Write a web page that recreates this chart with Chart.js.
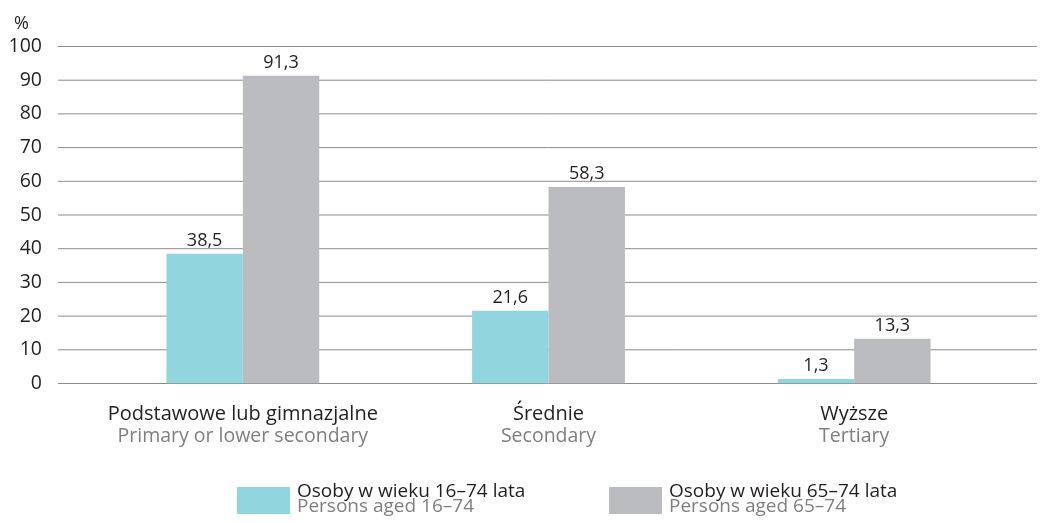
<!DOCTYPE html>
<html lang="pl">
<head>
<meta charset="utf-8">
<title>Wykres</title>
<script src="https://cdn.jsdelivr.net/npm/chart.js@4.4.1/dist/chart.umd.min.js"></script>
<style>
  html, body { margin: 0; padding: 0; background: #ffffff; }
  #wrap { width: 1052px; height: 523px; position: relative; }
</style>
</head>
<body>
<div id="wrap"><canvas id="chart" width="1052" height="523"></canvas></div>
<script>
// Categories (Polish line on top, English line below)
const categoriesPl = ['Podstawowe lub gimnazjalne', 'Średnie', 'Wyższe'];
const categoriesEn = ['Primary or lower secondary', 'Secondary', 'Tertiary'];

// Series names
const seriesNamesPl = ['Osoby w wieku 16–74 lata', 'Osoby w wieku 65–74 lata'];
const seriesNamesEn = ['Persons aged 16–74', 'Persons aged 65–74'];

// Values, %
const values16to74 = [38.5, 21.6, 1.3];
const values65to74 = [91.3, 58.3, 13.3];

// Y axis
const yMin = 0;
const yMax = 100;
const yStep = 10;
const yUnit = '%';

const FONT = "'Open Sans', 'DejaVu Sans', sans-serif";
const FS_AXIS = 19.5;
const FS_CAT = 20;
const FS_VALUE = 18;
const FS_LEGEND = 19;
const DARK = '#231f20';
const GREY_TEXT = '#7f7f7f';
const GRID = '#8c8c8c';
const COLORS = ['#91d5de', '#bbbcc0'];

const fmt = v => v.toFixed(1).replace('.', ',');

// Let the two stacked category label rows keep their descenders
// (each axis clips its labels to its own box)
const labelRoomPlugin = {
  id: 'labelRoom',
  afterLayout(chart) {
    const { x, x2 } = chart.scales;
    x.bottom = x2.top + 10;
    x2.bottom = chart.height;
  }
};

// Horizontal grid lines, a bit wider than the plot area
const gridPlugin = {
  id: 'wideGrid',
  beforeDatasetsDraw(chart) {
    const { ctx, chartArea, scales: { y } } = chart;
    ctx.save();
    ctx.strokeStyle = GRID;
    ctx.lineWidth = 1;
    y.ticks.forEach(t => {
      const py = y.getPixelForValue(t.value);
      ctx.beginPath();
      ctx.moveTo(chartArea.left - 32, py);
      ctx.lineTo(chartArea.right + 30, py);
      ctx.stroke();
    });
    ctx.restore();
  }
};

// Value labels above bars and the unit sign above the y axis
const labelPlugin = {
  id: 'valueLabels',
  afterDatasetsDraw(chart) {
    const { ctx, scales: { y } } = chart;
    ctx.save();
    ctx.font = `${FS_VALUE}px ${FONT}`;
    ctx.fillStyle = DARK;
    ctx.textAlign = 'center';
    ctx.textBaseline = 'alphabetic';
    chart.data.datasets.forEach((ds, i) => {
      chart.getDatasetMeta(i).data.forEach((bar, j) => {
        ctx.fillText(fmt(ds.data[j]), bar.x, bar.y - 8);
      });
    });
    ctx.textAlign = 'left';
    ctx.fillText(yUnit, 14, y.getPixelForValue(yMax) - 18);
    ctx.restore();
  }
};

// Two-line legend under the chart
const legendPlugin = {
  id: 'twoLineLegend',
  afterDraw(chart) {
    const { ctx } = chart;
    const starts = [237, 609];
    const boxW = 53, boxH = 27, boxTop = 487;
    ctx.save();
    chart.data.datasets.forEach((ds, i) => {
      const x = starts[i];
      ctx.fillStyle = ds.backgroundColor;
      ctx.fillRect(x, boxTop, boxW, boxH);
      ctx.font = `${FS_LEGEND}px ${FONT}`;
      ctx.textAlign = 'left';
      ctx.textBaseline = 'alphabetic';
      ctx.fillStyle = DARK;
      ctx.fillText(seriesNamesPl[i], x + boxW + 7, 497);
      ctx.fillStyle = GREY_TEXT;
      ctx.fillText(seriesNamesEn[i], x + boxW + 7, 512);
    });
    ctx.restore();
  }
};

new Chart(document.getElementById('chart'), {
  type: 'bar',
  data: {
    labels: categoriesPl,
    datasets: [
      { label: seriesNamesPl[0], data: values16to74, backgroundColor: COLORS[0], borderWidth: 0 },
      { label: seriesNamesPl[1], data: values65to74, backgroundColor: COLORS[1], borderWidth: 0 }
    ]
  },
  options: {
    responsive: false,
    animation: false,
    devicePixelRatio: 1,
    categoryPercentage: 0.5,
    barPercentage: 1.0,
    layout: { padding: { top: 46.5, right: 45, bottom: 80.5, left: 0 } },
    plugins: {
      legend: { display: false },
      tooltip: { enabled: false }
    },
    scales: {
      y: {
        min: yMin,
        max: yMax,
        ticks: {
          stepSize: yStep,
          color: DARK,
          padding: 48,
          font: { family: FONT, size: FS_AXIS }
        },
        grid: { display: false, drawTicks: false },
        border: { display: false },
        afterFit(scale) {
          scale.width = 90;
          scale.paddingTop = 0;
          scale.paddingBottom = 0;
        }
      },
      x: {
        type: 'category',
        weight: 0,
        ticks: {
          color: DARK,
          padding: 19,
          maxRotation: 0,
          autoSkip: false,
          font: { family: FONT, size: FS_CAT }
        },
        grid: { display: false, drawTicks: false },
        border: { display: false },
        afterFit(scale) { scale.height = 36; }
      },
      x2: {
        type: 'category',
        position: 'bottom',
        weight: 1,
        labels: categoriesEn,
        ticks: {
          color: GREY_TEXT,
          padding: 5,
          maxRotation: 0,
          autoSkip: false,
          font: { family: FONT, size: FS_AXIS }
        },
        grid: { display: false, drawTicks: false },
        border: { display: false },
        afterFit(scale) { scale.height = 23; }
      }
    }
  },
  plugins: [labelRoomPlugin, gridPlugin, labelPlugin, legendPlugin]
});
</script>
</body>
</html>
